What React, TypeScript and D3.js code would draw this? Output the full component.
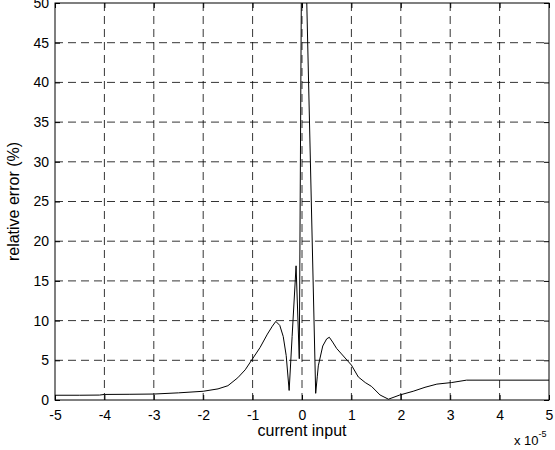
import * as d3 from 'd3';
import React, { useRef, useEffect } from 'react';

// current input (x 1e-5) and relative error (%)
const inputX = [
  -5, -4.5, -4.1, -4.0, -3.5, -3, -2.5, -2, -1.7, -1.5, -1.3, -1.15, -1, -0.85, -0.7, -0.6, -0.53, -0.45,
  -0.38, -0.32, -0.26, -0.2, -0.12, -0.055, -0.005, 0.06, 0.277, 0.31, 0.33, 0.42, 0.5, 0.553, 0.62, 0.7,
  0.8, 1.0, 1.14, 1.28, 1.41, 1.58, 1.75, 1.98, 2.25, 2.49, 2.73, 3.03, 3.33, 4, 5,
];
const errorPct = [
  0.6, 0.6, 0.62, 0.7, 0.72, 0.75, 0.9, 1.1, 1.4, 1.8, 2.8, 3.8, 5.2, 6.6, 8.3, 9.3, 9.9, 9.4,
  8.0, 5.6, 1.2, 8.0, 16.9, 5.2, 60, 60, 0.84, 3.0, 4.3, 6.8, 7.7, 7.9, 7.3, 6.5,
  5.8, 4.4, 2.9, 2.2, 1.7, 0.63, 0.1, 0.63, 1.1, 1.6, 2.0, 2.2, 2.5, 2.5, 2.5,
];
const xTicks = [-5, -4, -3, -2, -1, 0, 1, 2, 3, 4, 5];
const yTicks = [0, 5, 10, 15, 20, 25, 30, 35, 40, 45, 50];

function App() {
  const svgRef = useRef(null);

  useEffect(() => {
    const width = 555,
      height = 450;
    const margin = { top: 3, right: 6, bottom: 50, left: 55 };
    const w = width - margin.left - margin.right,
      h = height - margin.top - margin.bottom;
    const font = 'Liberation Sans, Arial, sans-serif';
    const fmt = (d) => String(d); // plain hyphen like MATLAB

    const svg = d3.select(svgRef.current).attr('width', width).attr('height', height);
    svg.selectAll('*').remove();
    svg.append('rect').attr('width', width).attr('height', height).attr('fill', '#fff');

    const g = svg.append('g').attr('transform', 'translate(' + margin.left + ',' + margin.top + ')');

    const x = d3.scaleLinear().domain([-5, 5]).range([0, w]);
    const y = d3.scaleLinear().domain([0, 50]).range([h, 0]);

    svg
      .append('defs')
      .append('clipPath')
      .attr('id', 'plotclip')
      .append('rect')
      .attr('width', w)
      .attr('height', h);

    // dashed grid
    g.append('g')
      .selectAll('line')
      .data(xTicks.slice(1, -1))
      .join('line')
      .attr('x1', (d) => x(d))
      .attr('x2', (d) => x(d))
      .attr('y1', 0)
      .attr('y2', h)
      .attr('stroke', '#000')
      .attr('stroke-width', 0.8)
      .attr('stroke-dasharray', '8,5');
    g.append('g')
      .selectAll('line')
      .data(yTicks.slice(1, -1))
      .join('line')
      .attr('y1', (d) => y(d))
      .attr('y2', (d) => y(d))
      .attr('x1', 0)
      .attr('x2', w)
      .attr('stroke', '#000')
      .attr('stroke-width', 0.8)
      .attr('stroke-dasharray', '8,5');

    // curve
    const pts = inputX.map((v, i) => [v, errorPct[i]]);
    g.append('path')
      .datum(pts)
      .attr('clip-path', 'url(#plotclip)')
      .attr('fill', 'none')
      .attr('stroke', '#000')
      .attr('stroke-width', 1)
      .attr(
        'd',
        d3
          .line()
          .x((d) => x(d[0]))
          .y((d) => y(d[1]))
      );

    // axes, MATLAB style ticks inside on all sides
    const tk = 5;
    const styleAxis = (sel) => {
      sel.select('.domain').remove();
      sel.selectAll('line').attr('stroke', '#000');
      sel.selectAll('text').attr('font-family', font).attr('font-size', 14).attr('fill', '#000');
    };
    g.append('g')
      .attr('transform', 'translate(0,' + h + ')')
      .call(d3.axisBottom(x).tickValues(xTicks).tickSizeInner(-tk).tickSizeOuter(0).tickPadding(10).tickFormat(fmt))
      .call(styleAxis);
    g.append('g')
      .call(d3.axisTop(x).tickValues(xTicks).tickSizeInner(-tk).tickSizeOuter(0).tickFormat(() => ''))
      .call(styleAxis);
    g.append('g')
      .call(d3.axisLeft(y).tickValues(yTicks).tickSizeInner(-tk).tickSizeOuter(0).tickPadding(6).tickFormat(fmt))
      .call(styleAxis);
    g.append('g')
      .attr('transform', 'translate(' + w + ',0)')
      .call(d3.axisRight(y).tickValues(yTicks).tickSizeInner(-tk).tickSizeOuter(0).tickFormat(() => ''))
      .call(styleAxis);

    g.append('rect')
      .attr('width', w)
      .attr('height', h)
      .attr('fill', 'none')
      .attr('stroke', '#000')
      .attr('stroke-width', 1);

    // labels
    svg
      .append('text')
      .attr('x', margin.left + w / 2)
      .attr('y', 436)
      .attr('text-anchor', 'middle')
      .attr('font-family', font)
      .attr('font-size', 16)
      .text('current input');
    svg
      .append('text')
      .attr('transform', 'translate(19,' + (margin.top + h / 2) + ') rotate(-90)')
      .attr('text-anchor', 'middle')
      .attr('font-family', font)
      .attr('font-size', 16)
      .text('relative error (%)');
    const sci = svg
      .append('text')
      .attr('x', 514)
      .attr('y', 445)
      .attr('font-family', font)
      .attr('font-size', 13);
    sci.append('tspan').text('x 10');
    sci.append('tspan').attr('dy', -8).attr('font-size', 9).text('-5');
  }, []);

  return (
    <svg ref={svgRef} style={{ display: 'block', position: 'absolute', left: 0, top: 0 }}></svg>
  );
}

export default App;
